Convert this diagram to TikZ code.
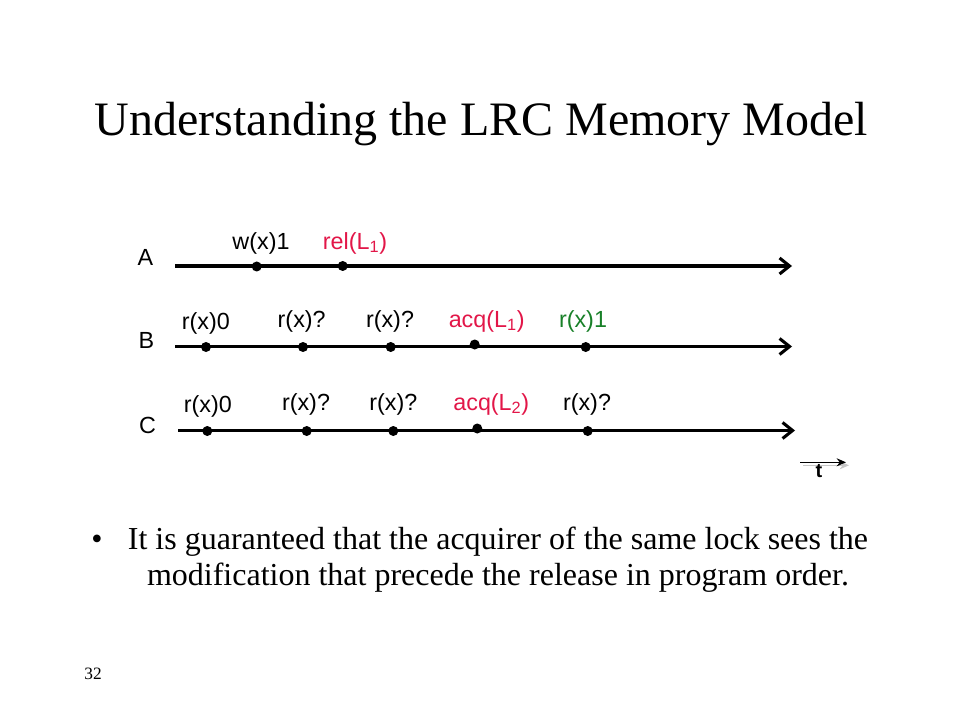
\documentclass[tikz,border=0pt]{standalone}
\usepackage{fontspec}
\setmainfont{Liberation Serif}
\setsansfont{Liberation Sans}
\usetikzlibrary{arrows.meta,calc}
\definecolor{lockred}{RGB}{226,22,72}
\definecolor{seegreen}{RGB}{24,128,40}
\tikzset{
	timeline/.style={line width=2.3pt, -{Straight Barb[length=7.5pt,width=12pt,line width=2.3pt]}},
	evdot/.style={circle, fill=black, inner sep=0pt, minimum size=7.5pt},
	evlabel/.style={font=\sffamily\fontsize{17.5}{20}\selectfont, inner sep=0pt},
	proclabel/.style={font=\sffamily\fontsize{17.5}{20}\selectfont, inner sep=0pt},
}

\begin{document}
\begin{tikzpicture}[x=0.75pt, y=-0.75pt]
		%%%%% START %%%%%
		\useasboundingbox (0, 0) rectangle (960, 720);
		
		\node[font=\fontsize{36}{40}\selectfont, inner sep=0pt] (title) at (481.5, 124) {Understanding the LRC Memory Model};
		
		% processes
		\node[proclabel] (pA) at (145.5, 257) {A};
		\node[proclabel] (pB) at (146.5, 340) {B};
		\node[proclabel] (pC) at (147.5, 425) {C};
		
		\coordinate (sA) at (175, 266);
		\coordinate (eA) at (792, 266);
		\coordinate (sB) at (175, 346.5);
		\coordinate (eB) at (792, 346.5);
		\coordinate (sC) at (178, 430.5);
		\coordinate (eC) at (795, 430.5);
		\draw[timeline] (sA) -- (eA);
		\draw[timeline] (sB) -- (eB);
		\draw[timeline] (sC) -- (eC);
		
		% events of A
		\node[evdot] (a1) at (256.7, 266.5) {};
		\node[evdot] (a2) at (342.7, 266) {};
		\node[evlabel] at (261, 243) {w(x)1};
		\node[evlabel, color=lockred] at (355, 243) {rel(L\textsubscript{1})};
		
		% events of B
		\node[evdot] (b1) at (206, 347) {};
		\node[evdot] (b2) at (303, 347) {};
		\node[evdot] (b3) at (390.7, 347) {};
		\node[evdot] (b4) at (474.7, 344.5) {};
		\node[evdot] (b5) at (585.7, 347) {};
		\node[evlabel] at (205.8, 323) {r(x)0};
		\node[evlabel] at (301.7, 321) {r(x)?};
		\node[evlabel] at (390, 321) {r(x)?};
		\node[evlabel, color=lockred] at (486.7, 321) {acq(L\textsubscript{1})};
		\node[evlabel, color=seegreen] at (583, 321) {r(x)1};
		
		% events of C
		\node[evdot] (c1) at (207.3, 431) {};
		\node[evdot] (c2) at (306.7, 431) {};
		\node[evdot] (c3) at (393.3, 431) {};
		\node[evdot] (c4) at (477.3, 428.5) {};
		\node[evdot] (c5) at (587.7, 431) {};
		\node[evlabel] at (207.8, 406) {r(x)0};
		\node[evlabel] at (306, 404) {r(x)?};
		\node[evlabel] at (393.3, 404) {r(x)?};
		\node[evlabel, color=lockred] at (491.3, 404) {acq(L\textsubscript{2})};
		\node[evlabel] at (587, 404) {r(x)?};
		
		% time axis
		\coordinate (t0) at (800, 462.3);
		\coordinate (t1) at (846, 462.3);
		\draw[line width=1.2pt, color=black!22, -{Stealth[length=7pt,width=6pt]}] ($(t0)+(3,3)$) -- ($(t1)+(3,3)$);
		\draw[line width=1.2pt, -{Stealth[length=7pt,width=6pt]}] (t0) -- (t1);
		\node[font=\sffamily\bfseries\fontsize{15}{17}\selectfont, inner sep=0pt, anchor=north] (tlab) at (819, 464) {t};
		
		% bullet
		\node[font=\fontsize{24}{27}\selectfont, inner sep=0pt] (dot) at (97, 542) {\textbullet};
		\node[font=\fontsize{24}{27}\selectfont, inner sep=0pt, align=center] (note) at (498, 560) {It is guaranteed that the acquirer of the same lock sees the\\modification that precede the release in program order.};
		
		\node[font=\fontsize{13}{15}\selectfont, inner sep=0pt] (page) at (93, 674) {32};
		%%%%% END %%%%%
	\end{tikzpicture}
\end{document}
